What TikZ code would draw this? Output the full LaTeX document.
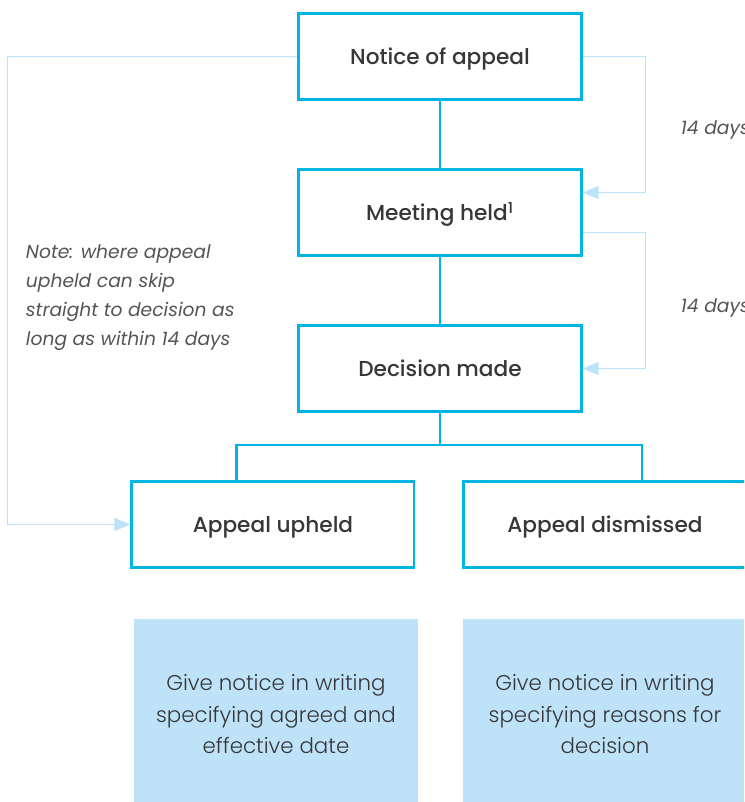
\documentclass[tikz,border=0pt]{standalone}
\usepackage{fontspec}
\setmainfont{Poppins}[BoldFont={Poppins Medium},ItalicFont={Poppins Italic}]
\newfontfamily\lightfont{Poppins Light}
\usetikzlibrary{arrows.meta,positioning}
\definecolor{edgeblue}{RGB}{0,181,226}
\definecolor{paleblue}{RGB}{190,227,248}
\definecolor{inkgrey}{RGB}{55,55,55}
\definecolor{notegrey}{RGB}{85,85,85}

\begin{document}
\begin{tikzpicture}[x=0.025cm, y=-0.025cm, font=\fontsize{15.4}{18}\selectfont\bfseries, text=inkgrey, node distance=1.675cm and 1.175cm, every node/.style={align=center}, stage/.style={draw=edgeblue, line width=2.1pt, minimum width=7.05cm, minimum height=2.15cm, inner sep=0pt, text height=16pt, text depth=4pt}, outcome/.style={fill=paleblue, minimum width=7.1cm, minimum height=4.75cm, font=\lightfont\fontsize{15.2}{22.3}\selectfont}, note/.style={font=\fontsize{13.3}{20.6}\selectfont\itshape, text=notegrey, align=left}, link/.style={draw=edgeblue, line width=2.1pt}, back/.style={draw=paleblue, line width=1.3pt, -{Triangle[length=0.4cm, width=0.32cm]}}]
\useasboundingbox (0,0) rectangle (744,802);
\clip (0,0) rectangle (744,802);
\node[stage] (notice) at (440,56.5) {Notice of appeal};
\node[stage, below=of notice] (meeting) {Meeting held\textsuperscript{1}};
\node[stage, below=of meeting] (decision) {Decision made};
\node[stage, below=of decision, xshift=-4.175cm] (upheld) {Appeal upheld};
\node[stage, right=of upheld] (dismissed) {Appeal dismissed};
\node[outcome, below=1.25cm of upheld, xshift=0.075cm] (agreed) {Give notice in writing\\specifying agreed and\\effective date};
\node[outcome, below=1.25cm of dismissed] (reasons) {Give notice in writing\\specifying reasons for\\decision};
\node[note, anchor=north west] (skip) at (21,240) {Note: where appeal\\upheld can skip\\straight to decision as\\long as within 14 days};
\node[note, anchor=west] (days1) at (676,130) {14 days};
\node[note, anchor=west] (days2) at (676,308) {14 days};
\draw[link] (notice) -- (meeting);
\draw[link] (meeting) -- (decision);
\draw[link] (decision.south) -- ++(0,32) coordinate (split);
\draw[link] ([xshift=-0.9cm]upheld.north) |- (split) -| ([xshift=0.925cm]dismissed.north);
\draw[back] (notice.east) -- ++(63,0) |- ([yshift=0.5cm]meeting.east);
\draw[back] ([yshift=-0.5cm]meeting.east) -- ++(63,0) |- (decision.east);
\draw[back] (notice.west) -- ++(-290,0) |- (upheld.west);
\end{tikzpicture}
\end{document}
